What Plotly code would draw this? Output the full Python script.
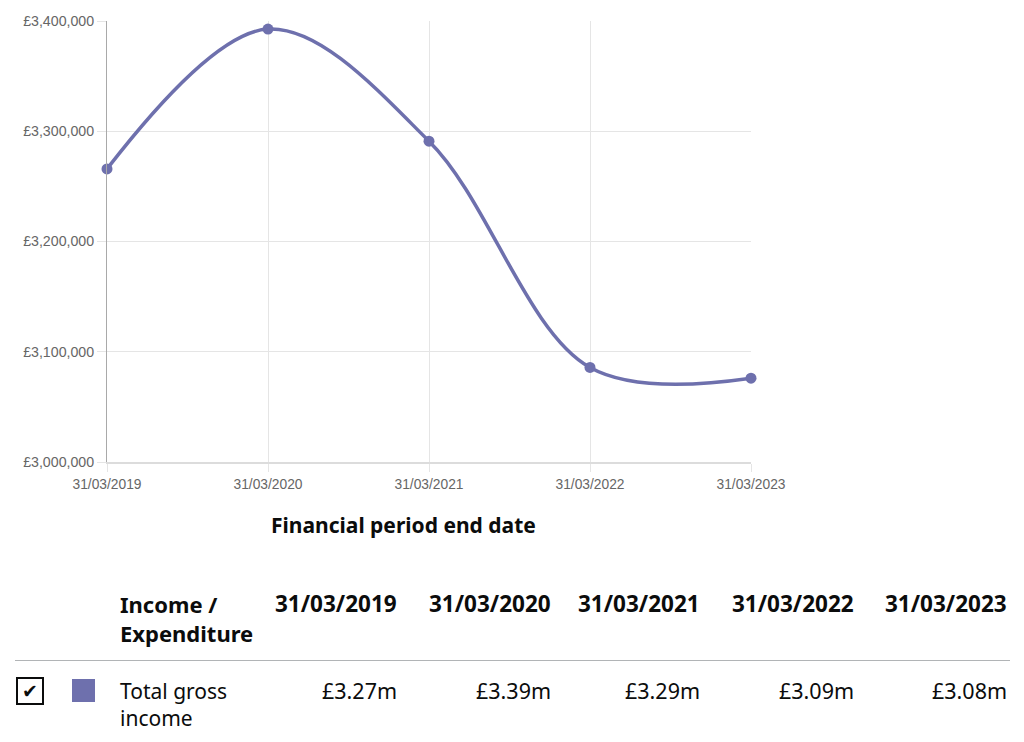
import plotly.graph_objects as go

# ---- data ----
dates = ["31/03/2019", "31/03/2020", "31/03/2021", "31/03/2022", "31/03/2023"]
income = [3265800, 3392700, 3291000, 3085800, 3076000]
table_values = ["£3.27m", "£3.39m", "£3.29m", "£3.09m", "£3.08m"]
series_name = "Total gross income"
y_ticks = [3000000, 3100000, 3200000, 3300000, 3400000]
y_ticktext = [f"£{v:,}" for v in y_ticks]

OFF = 8  # page body margin
W, H = 1024 - OFF, 742 - OFF
L, R, T, B = 107 - OFF, 751 - OFF, 21 - OFF, 462 - OFF  # plot area in figure pixels
LINE_COLOR = "#6e70ad"
TABLE_FONT = "Noto Sans"
TXT = "#0b0c0c"

def px(x):
    return (x - OFF - L) / (R - L)

def py(y):
    return (B - (y - OFF)) / (B - T)

fig = go.Figure()
fig.add_trace(go.Scatter(
    x=dates, y=income, mode="lines+markers",
    line=dict(color=LINE_COLOR, width=3.5, shape="spline", smoothing=1.0),
    marker=dict(color=LINE_COLOR, size=11),
    name=series_name, showlegend=False, cliponaxis=False,
))

annotations = []
shapes = []

# axis title
annotations.append(dict(
    x=px(403), y=py(525), xref="paper", yref="paper", text="<b>Financial period end date</b>",
    showarrow=False, font=dict(family=TABLE_FONT, size=21, color=TXT),
    xanchor="center", yanchor="middle"))

# table header
col_right = [399, 553, 702, 856, 1009]
annotations.append(dict(
    x=px(118), y=py(618), xref="paper", yref="paper", text="<b>Income /<br>Expenditure</b>",
    showarrow=False, align="left", font=dict(family=TABLE_FONT, size=22, color=TXT),
    xanchor="left", yanchor="middle"))
for d, xr in zip(dates, col_right):
    annotations.append(dict(
        x=px(xr), y=py(603), xref="paper", yref="paper", text=f"<b>{d}</b>",
        showarrow=False, font=dict(family=TABLE_FONT, size=22.5, color=TXT),
        xanchor="right", yanchor="middle"))

# separator
shapes.append(dict(type="line", xref="paper", yref="paper",
                   x0=px(15), x1=px(1010), y0=py(660.5), y1=py(660.5),
                   line=dict(color="#b1b4b6", width=1)))

# row
shapes.append(dict(type="rect", xref="paper", yref="paper",
                   x0=px(17), x1=px(43), y0=py(678), y1=py(704),
                   line=dict(color=TXT, width=2), fillcolor="white"))
annotations.append(dict(
    x=px(30), y=py(691), xref="paper", yref="paper", text="<b>✔</b>",
    showarrow=False, font=dict(family="DejaVu Sans", size=19, color=TXT),
    xanchor="center", yanchor="middle"))
shapes.append(dict(type="rect", xref="paper", yref="paper",
                   x0=px(72), x1=px(95), y0=py(679), y1=py(702),
                   line=dict(width=0), fillcolor=LINE_COLOR))
annotations.append(dict(
    x=px(118), y=py(704), xref="paper", yref="paper", text="Total gross<br>income",
    showarrow=False, align="left", font=dict(family=TABLE_FONT, size=21, color=TXT),
    xanchor="left", yanchor="middle"))
for v, xr in zip(table_values, col_right):
    annotations.append(dict(
        x=px(xr), y=py(690), xref="paper", yref="paper", text=v,
        showarrow=False, font=dict(family=TABLE_FONT, size=21.5, color=TXT),
        xanchor="right", yanchor="middle"))

fig.update_layout(
    width=W, height=H,
    margin=dict(l=L, r=W - R, t=T, b=H - B, pad=0, autoexpand=False),
    paper_bgcolor="white", plot_bgcolor="white",
    annotations=annotations, shapes=shapes,
    xaxis=dict(
        type="category", range=[0, len(dates) - 1], automargin=False,
        showgrid=True, gridcolor="#e5e5e5", gridwidth=1,
        ticks="outside", ticklen=8, tickcolor="#e5e5e5",
        showline=True, linecolor="#dcdcdc", linewidth=2,
        tickfont=dict(family="Liberation Sans", size=13.8, color="#666666"),
        zeroline=False,
    ),
    yaxis=dict(
        range=[3000000, 3400000], tickvals=y_ticks, ticktext=y_ticktext, automargin=False,
        showgrid=True, gridcolor="#e5e5e5", gridwidth=1,
        ticks="outside", ticklen=9, tickcolor="#e5e5e5",
        showline=True, linecolor="#a9a9a9", linewidth=1,
        tickfont=dict(family="Liberation Sans", size=14.2, color="#666666"),
        zeroline=False,
    ),
)

fig.write_html("out.html")
